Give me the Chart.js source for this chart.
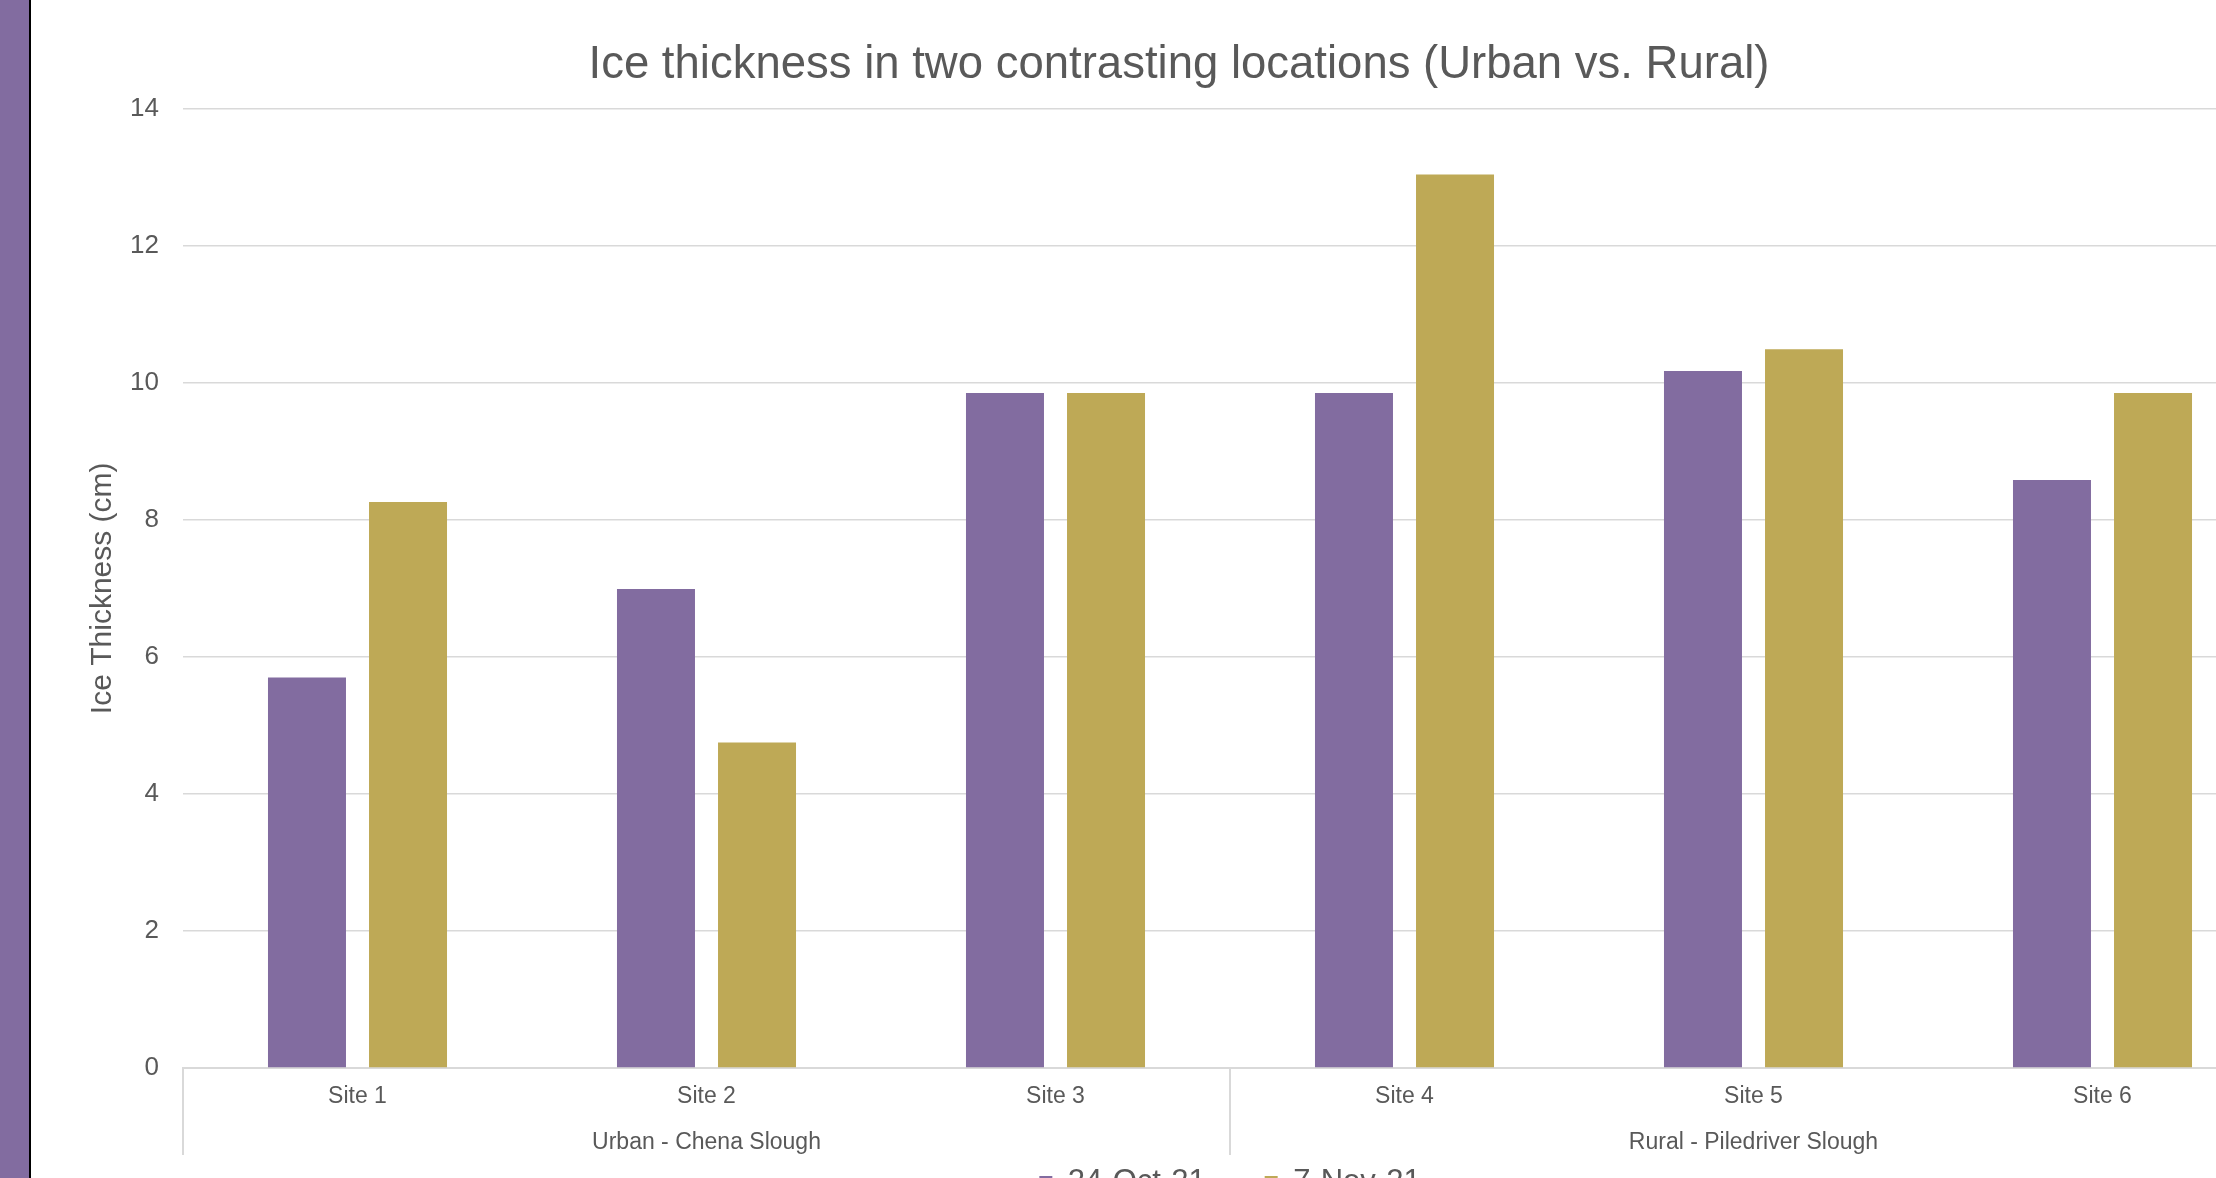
<!DOCTYPE html>
<html>
<head>
<meta charset="utf-8">
<script src="https://cdn.jsdelivr.net/npm/chart.js@4.4.1/dist/chart.umd.min.js"></script>
<style>
  html, body { margin: 0; padding: 0; background: #ffffff; overflow: hidden; width: 2216px; height: 1178px; }
  #strip { position: absolute; left: 0; top: 0; width: 29px; height: 1178px; background: #826CA0; }
  #edge { position: absolute; left: 29px; top: 0; width: 2px; height: 1178px; background: #000000; }
  #c { position: absolute; left: 31px; top: 0; }
</style>
</head>
<body>
<div id="strip"></div>
<div id="edge"></div>
<canvas id="c" width="2290" height="1230"></canvas>
<script>
const chartTitle = 'Ice thickness in two contrasting locations (Urban vs. Rural)';
const yAxisTitle = 'Ice Thickness (cm)';
const sites = ['Site 1', 'Site 2', 'Site 3', 'Site 4', 'Site 5', 'Site 6'];
const groups = ['Urban - Chena Slough', 'Rural - Piledriver Slough'];
const groupSizes = [3, 3];
const seriesNames = ['24-Oct-21', '7-Nov-21'];
const oct24 = [5.70, 6.99, 9.85, 9.85, 10.17, 8.58];
const nov7 = [8.26, 4.75, 9.85, 13.04, 10.49, 9.85];
const yTicks = [0, 2, 4, 6, 8, 10, 12, 14];

const PURPLE = '#826CA0';
const GOLD = '#BEA956';
const TEXT = '#595959';
const GRID = '#D9D9D9';
const FONT = '"Liberation Sans", Arial, sans-serif';

const groupAxisPlugin = {
  id: 'groupAxis',
  afterDraw(chart) {
    const x = chart.scales.x;
    const ctx = chart.ctx;
    ctx.save();
    ctx.strokeStyle = GRID;
    ctx.lineWidth = 2;
    const half = (x.getPixelForValue(1) - x.getPixelForValue(0)) / 2;
    const yTop = x.top;
    const yBot = x.top + 87;
    let start = 0;
    const bounds = [x.getPixelForValue(0) - half];
    groupSizes.forEach(n => {
      bounds.push(x.getPixelForValue(start + n - 1) + half);
      start += n;
    });
    bounds.forEach(bx => {
      ctx.beginPath();
      ctx.moveTo(Math.round(bx), yTop);
      ctx.lineTo(Math.round(bx), yBot);
      ctx.stroke();
    });
    ctx.fillStyle = TEXT;
    ctx.font = '23px ' + FONT;
    ctx.textAlign = 'center';
    ctx.textBaseline = 'middle';
    start = 0;
    groups.forEach((g, i) => {
      const end = start + groupSizes[i] - 1;
      const cx = (x.getPixelForValue(start) + x.getPixelForValue(end)) / 2;
      ctx.fillText(g, cx, x.top + 75);
      start += groupSizes[i];
    });
    ctx.restore();
  }
};

new Chart(document.getElementById('c'), {
  type: 'bar',
  data: {
    labels: sites,
    datasets: [
      { label: seriesNames[0], data: oct24, backgroundColor: PURPLE, borderWidth: 0 },
      { label: seriesNames[1], data: nov7, backgroundColor: GOLD, borderWidth: 0 }
    ]
  },
  options: {
    responsive: false,
    animation: false,
    devicePixelRatio: 1,
    categoryPercentage: 0.579,
    barPercentage: 0.772,
    layout: { padding: { left: 50, right: 44, top: 0, bottom: 22 } },
    plugins: {
      title: {
        display: true,
        text: chartTitle,
        color: TEXT,
        font: { family: FONT, size: 45.5, weight: 'normal' },
        padding: { top: 38, bottom: 16 }
      },
      legend: {
        display: true,
        position: 'bottom',
        fullSize: false,
        labels: {
          color: TEXT,
          font: { family: FONT, size: 31 },
          boxWidth: 13,
          boxHeight: 13,
          padding: 59
        }
      },
      tooltip: { enabled: false }
    },
    scales: {
      x: {
        grid: { display: false, drawTicks: false },
        border: { display: true, color: GRID, width: 2 },
        ticks: { color: TEXT, font: { family: FONT, size: 23 }, padding: 15 },
        afterFit(scale) { scale.height = 40; }
      },
      y: {
        min: 0,
        max: 14,
        afterBuildTicks(scale) { scale.ticks = yTicks.map(v => ({ value: v })); },
        grid: { color: GRID, lineWidth: 1.5, drawTicks: false },
        border: { display: false },
        ticks: { color: TEXT, font: { family: FONT, size: 26 }, padding: 24 },
        title: {
          display: true,
          text: yAxisTitle,
          color: TEXT,
          font: { family: FONT, size: 30 },
          padding: { top: 4, bottom: 4 }
        },
        afterFit(scale) { scale.width = 102; }
      }
    }
  },
  plugins: [groupAxisPlugin]
});
</script>
</body>
</html>
